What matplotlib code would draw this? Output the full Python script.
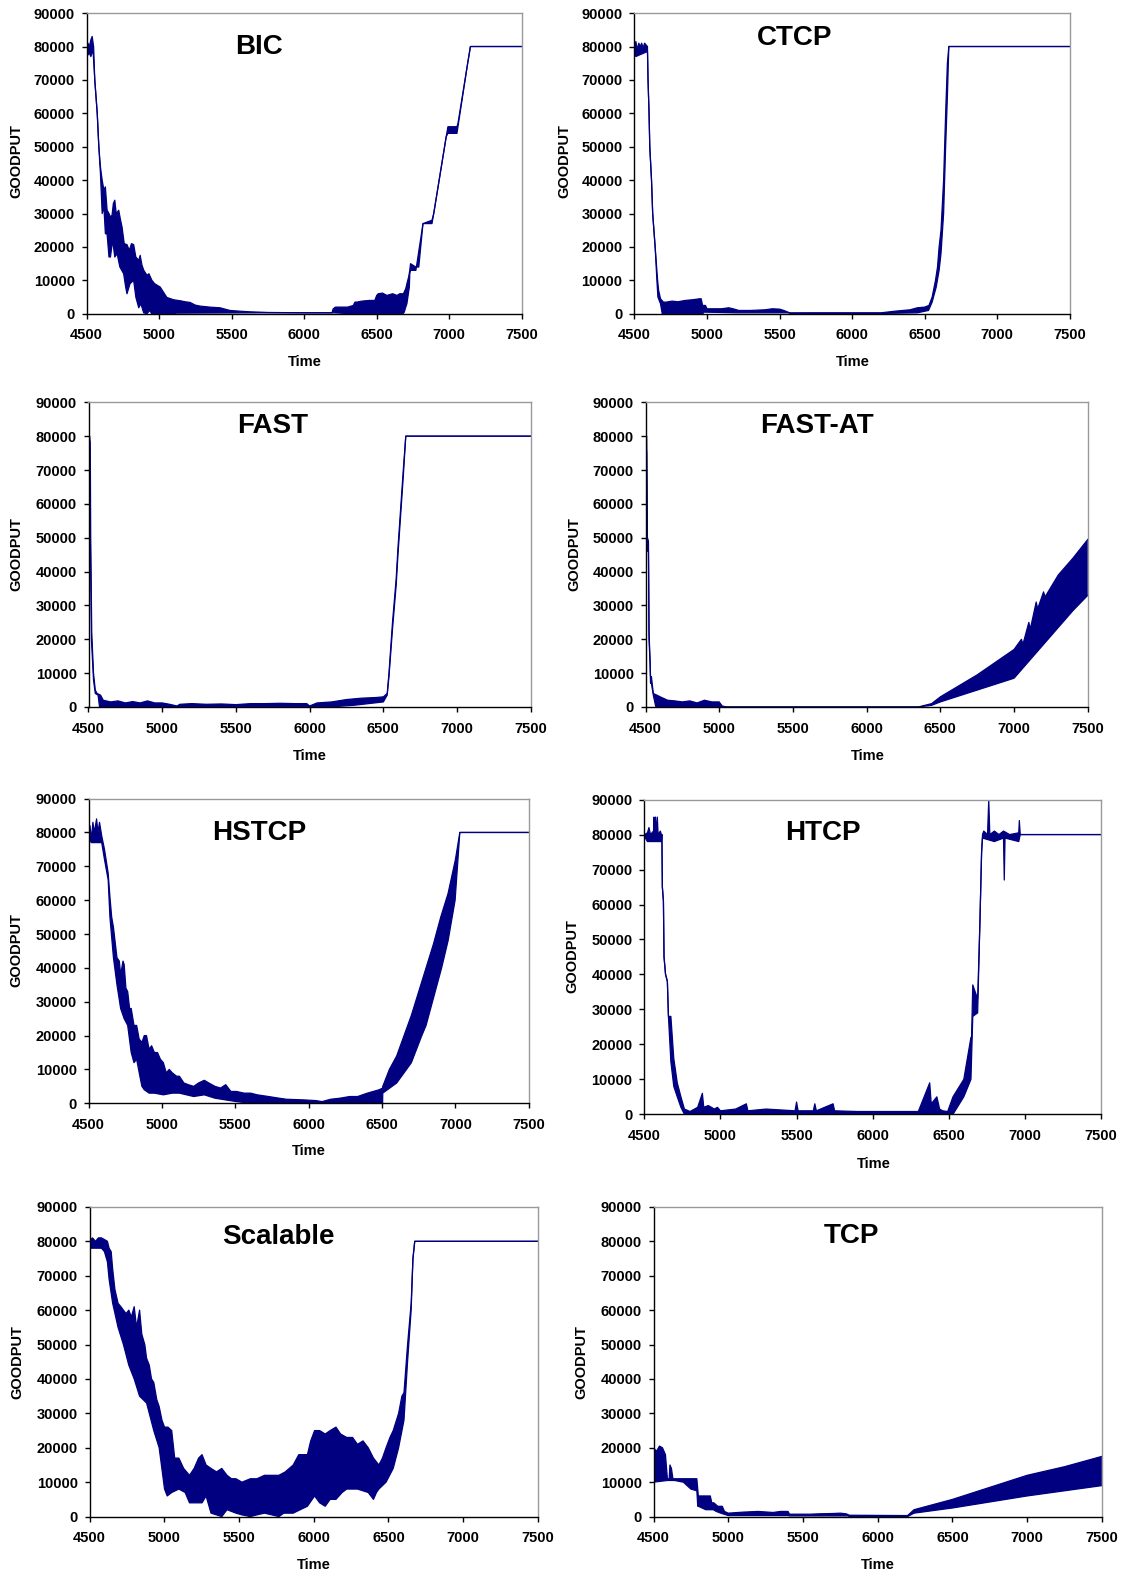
import matplotlib
matplotlib.use("Agg")
import matplotlib.pyplot as plt

plt.rcParams['font.family'] = ['Liberation Sans', 'DejaVu Sans']

W, H = 1121, 1577
NAVY = '#000080'

# ---- goodput traces: (time, goodput) points on the upper and lower edge of each trace ----
bic_top = [(4500, 81000), (4510, 81000), (4520, 80000), (4530, 82000), (4539, 83000),
           (4549, 80000), (4557, 70000), (4574, 60000), (4585, 50000), (4596, 44000),
           (4608, 40000), (4620, 37000), (4630, 38000), (4642, 31000), (4655, 30000),
           (4665, 29000), (4676, 29500), (4685, 33000), (4695, 34000), (4705, 30000),
           (4722, 31000), (4735, 28000), (4745, 26000), (4760, 21000), (4779, 20700),
           (4795, 19000), (4810, 21000), (4825, 20700), (4840, 17000), (4860, 16000),
           (4870, 17500), (4882, 14600), (4895, 13000), (4917, 11500), (4930, 12000),
           (4951, 10000), (4970, 9000), (5008, 8000), (5030, 6500), (5054, 4900),
           (5080, 4500), (5100, 4200), (5146, 3900), (5180, 3600), (5214, 3400),
           (5250, 2600), (5283, 2300), (5350, 2000), (5420, 1800), (5489, 1000),
           (5550, 800), (5626, 600), (5749, 400), (6000, 300), (6192, 300), (6200, 1500),
           (6216, 2000), (6300, 2000), (6339, 2500), (6350, 3500), (6364, 3500),
           (6400, 3800), (6450, 4000), (6487, 4000), (6500, 5500), (6511, 6000),
           (6540, 6200), (6570, 5500), (6610, 6000), (6640, 5500), (6659, 6000),
           (6684, 6000), (6700, 7500), (6708, 9000), (6720, 11000), (6728, 13000),
           (6733, 15000), (6770, 14000), (6790, 14000), (6819, 27000), (6881, 28000),
           (6893, 30000), (6979, 53000), (6991, 56000), (7053, 56000), (7060, 57000),
           (7127, 75000), (7146, 80000), (7500, 80000)]
bic_bot = [(4500, 77000), (4520, 78000), (4530, 77000), (4545, 79000), (4557, 70000),
           (4574, 60000), (4585, 50000), (4596, 42000), (4608, 30000), (4620, 32000),
           (4630, 24000), (4642, 23800), (4655, 17000), (4665, 17000), (4680, 22000),
           (4695, 17000), (4711, 18000), (4730, 14000), (4756, 12000), (4770, 8000),
           (4779, 6000), (4800, 9000), (4825, 10000), (4840, 5000), (4860, 1800),
           (4875, 3000), (4894, 300), (4917, 0), (4935, 1000), (4950, 0), (5100, 0),
           (5120, 200), (5700, 300), (6200, 300), (6339, 0), (6680, 0), (6690, 500),
           (6700, 2000), (6708, 3000), (6725, 8000), (6728, 12000), (6733, 13000),
           (6770, 13000), (6819, 27000), (6881, 27000), (6893, 30000), (6979, 53000),
           (6991, 54000), (7053, 54000), (7127, 75000), (7146, 80000), (7500, 80000)]

ctcp_top = [(4500, 80000), (4510, 81500), (4520, 79000), (4530, 81000), (4540, 80000),
            (4550, 81000), (4560, 79500), (4570, 81000), (4590, 80000), (4594, 70000),
            (4601, 60000), (4606, 50000), (4618, 40000), (4626, 30000), (4643, 20000),
            (4660, 10000), (4667, 7000), (4680, 4500), (4700, 3500), (4720, 3500),
            (4760, 3800), (4800, 3600), (4850, 4000), (4900, 4200), (4950, 4500),
            (4960, 4500), (4970, 2500), (4990, 2500), (5000, 1500), (5050, 1500),
            (5100, 1500), (5150, 1800), (5180, 1500), (5220, 1000), (5300, 1000),
            (5400, 1200), (5450, 1500), (5500, 1400), (5530, 1000), (5570, 300),
            (5700, 300), (6200, 300), (6300, 800), (6400, 1200), (6450, 1800),
            (6500, 2000), (6530, 2500), (6552, 5000), (6575, 10000), (6589, 14000),
            (6600, 20000), (6613, 25000), (6631, 40000), (6645, 60000), (6657, 75000),
            (6667, 80000), (7500, 80000)]
ctcp_bot = [(4500, 78000), (4510, 77000), (4590, 78500), (4594, 70000), (4601, 60000),
            (4606, 50000), (4618, 40000), (4626, 30000), (4643, 20000), (4655, 10000),
            (4662, 5000), (4680, 3000), (4692, 0), (4970, 0), (4980, 500), (5200, 300),
            (5560, 300), (5580, 0), (5700, 100), (6200, 100), (6450, 300), (6527, 1000),
            (6552, 3500), (6580, 8000), (6600, 13000), (6613, 18000), (6631, 30000),
            (6645, 50000), (6657, 65000), (6667, 80000), (7500, 80000)]

fast_top = [(4500, 80000), (4508, 80000), (4512, 78000), (4515, 50000), (4522, 22000),
            (4534, 10000), (4546, 5000), (4558, 4000), (4582, 3500), (4600, 2000),
            (4650, 1500), (4700, 1800), (4750, 1200), (4800, 1600), (4850, 1200),
            (4900, 1800), (4950, 1200), (5000, 1200), (5050, 800), (5100, 300),
            (5120, 800), (5200, 1000), (5300, 800), (5400, 900), (5500, 700),
            (5600, 1000), (5700, 1000), (5800, 1100), (5900, 1000), (5980, 1000),
            (6000, 300), (6050, 1200), (6150, 1500), (6250, 2200), (6350, 2600),
            (6450, 2800), (6500, 3000), (6526, 4000), (6538, 10000), (6562, 25000),
            (6587, 38000), (6599, 47000), (6635, 70000), (6652, 80000), (7500, 80000)]
fast_bot = [(4500, 80000), (4503, 45000), (4510, 45000), (4513, 48000), (4520, 20000),
            (4534, 8000), (4546, 4000), (4565, 3500), (4575, 0), (5100, 0), (5120, 200),
            (5980, 200), (6000, 0), (6200, 200), (6300, 500), (6400, 1000), (6500, 1500),
            (6526, 3500), (6538, 9000), (6562, 23000), (6587, 36000), (6599, 45000),
            (6635, 68000), (6652, 80000), (7500, 80000)]

fastat_top = [(4500, 80000), (4508, 80000), (4513, 50000), (4520, 49000), (4524, 22000),
              (4531, 14000), (4534, 9000), (4540, 9000), (4553, 4000), (4577, 3500),
              (4600, 3000), (4650, 2000), (4700, 1800), (4750, 1500), (4800, 1800),
              (4850, 1200), (4900, 2000), (4950, 1500), (5000, 1500), (5020, 300),
              (5050, 0), (6350, 0), (6441, 1000), (6500, 3000), (6750, 9500),
              (7000, 17000), (7050, 20000), (7060, 18500), (7100, 25000), (7110, 23000),
              (7150, 31000), (7160, 29000), (7200, 34000), (7210, 32500), (7300, 39000),
              (7400, 44000), (7500, 49500)]
fastat_bot = [(4500, 80000), (4508, 75000), (4513, 46000), (4520, 46000), (4524, 20000),
              (4531, 13000), (4534, 7000), (4540, 7000), (4553, 3500), (4570, 0),
              (6350, 0), (6441, 500), (6500, 1500), (6750, 5000), (7000, 8500),
              (7100, 13500), (7200, 18500), (7300, 23500), (7400, 28500), (7500, 33000)]

hstcp_top = [(4500, 80000), (4510, 82000), (4520, 78000), (4530, 83000), (4540, 80000),
             (4555, 84000), (4565, 80000), (4575, 83000), (4590, 79000), (4609, 75000),
             (4634, 68000), (4646, 61000), (4658, 55000), (4670, 52000), (4694, 43000),
             (4710, 42000), (4719, 38000), (4735, 42000), (4743, 41000), (4755, 34000),
             (4767, 33000), (4780, 28000), (4791, 28000), (4810, 23000), (4828, 23000),
             (4845, 19000), (4864, 18000), (4880, 20000), (4895, 20000), (4913, 16000),
             (4930, 17000), (4949, 15000), (4970, 15000), (4990, 13000), (5010, 12000),
             (5030, 9000), (5050, 10000), (5071, 9000), (5100, 8000), (5119, 8000),
             (5150, 6000), (5180, 5500), (5217, 5000), (5250, 6000), (5289, 6800),
             (5320, 6000), (5362, 5000), (5400, 4500), (5435, 5500), (5470, 3500),
             (5508, 3500), (5560, 3000), (5605, 3000), (5650, 2500), (5727, 2000),
             (5800, 1500), (5848, 1200), (5969, 1000), (6050, 800), (6091, 500),
             (6150, 1200), (6212, 1500), (6280, 2000), (6334, 2000), (6400, 3000),
             (6480, 4000), (6504, 4500), (6505, 5000), (6550, 10000), (6600, 14000),
             (6650, 20000), (6700, 26000), (6750, 33000), (6800, 40000), (6850, 47000),
             (6900, 55000), (6950, 62000), (7000, 72000), (7030, 80000), (7500, 80000)]
hstcp_bot = [(4500, 78000), (4520, 77000), (4560, 77000), (4590, 77000), (4609, 72000),
             (4634, 66000), (4646, 55000), (4670, 43000), (4694, 35000), (4719, 28000),
             (4743, 25000), (4767, 23000), (4791, 15000), (4810, 12000), (4828, 13000),
             (4850, 8000), (4864, 5000), (4880, 4000), (4913, 3000), (4949, 3000),
             (5010, 2500), (5071, 3000), (5119, 3000), (5217, 2000), (5289, 2500),
             (5362, 1500), (5435, 1000), (5508, 500), (5605, 0), (6504, 0), (6505, 3000),
             (6600, 6000), (6700, 12000), (6771, 20000), (6800, 23000), (6906, 40000),
             (6950, 48000), (6998, 60000), (7030, 80000), (7500, 80000)]

htcp_top = [(4500, 80000), (4520, 80500), (4530, 82000), (4540, 80000), (4560, 81000),
            (4563, 85000), (4567, 80000), (4573, 85000), (4578, 80000), (4585, 85000),
            (4590, 80000), (4605, 81000), (4611, 80000), (4615, 80000), (4618, 65000),
            (4625, 61000), (4629, 45000), (4639, 40000), (4651, 38000), (4658, 28000),
            (4674, 28000), (4693, 16000), (4716, 9000), (4740, 5000), (4763, 1500),
            (4800, 800), (4850, 2000), (4881, 6000), (4890, 2000), (4920, 2500),
            (4960, 1500), (4980, 2000), (5000, 1000), (5100, 1500), (5170, 3000),
            (5180, 1000), (5300, 1500), (5490, 1000), (5500, 3500), (5510, 1000),
            (5610, 1000), (5620, 3000), (5630, 1000), (5740, 3000), (5750, 1000),
            (5900, 800), (6100, 800), (6300, 800), (6375, 9000), (6385, 3000),
            (6422, 5000), (6440, 1500), (6460, 1000), (6493, 800), (6528, 5000),
            (6599, 10000), (6646, 22000), (6650, 22000), (6658, 37000), (6690, 33000),
            (6705, 55000), (6716, 75000), (6722, 80000), (6730, 81000), (6755, 80000),
            (6763, 90000), (6770, 80000), (6800, 81000), (6830, 80000), (6860, 81000),
            (6900, 80000), (6960, 80500), (6964, 84000), (6970, 80000), (7500, 80000)]
htcp_bot = [(4500, 79500), (4520, 78000), (4540, 78000), (4560, 78000), (4590, 78000),
            (4611, 78000), (4615, 80000), (4618, 65000), (4625, 61000), (4629, 45000),
            (4639, 40000), (4651, 38000), (4658, 28000), (4674, 15000), (4693, 8000),
            (4716, 5000), (4740, 2000), (4763, 0), (6528, 0), (6599, 5000),
            (6646, 10000), (6658, 28000), (6690, 29000), (6705, 55000), (6716, 75000),
            (6722, 79000), (6800, 78000), (6860, 79000), (6865, 67000), (6870, 79000),
            (6960, 78000), (6970, 80000), (7500, 80000)]

scal_top = [(4500, 80000), (4520, 81000), (4540, 80000), (4560, 81000), (4580, 81000),
            (4600, 80500), (4620, 80000), (4631, 78000), (4645, 77000), (4655, 72000),
            (4670, 66000), (4691, 62000), (4710, 61000), (4727, 60000), (4745, 59000),
            (4763, 60000), (4780, 58000), (4799, 61000), (4815, 55000), (4835, 60000),
            (4850, 53000), (4870, 50000), (4882, 46000), (4900, 44000), (4915, 40000),
            (4930, 39000), (4950, 34000), (4966, 32000), (4985, 28000), (5002, 26000),
            (5025, 26000), (5050, 25000), (5070, 17000), (5098, 17000), (5130, 14000),
            (5169, 12000), (5200, 14000), (5230, 17000), (5253, 18000), (5280, 15000),
            (5313, 14000), (5350, 13000), (5385, 14000), (5420, 12000), (5450, 11000),
            (5480, 11000), (5520, 10000), (5576, 11000), (5620, 11000), (5671, 12000),
            (5720, 12000), (5767, 12000), (5810, 13000), (5863, 15000), (5900, 18000),
            (5958, 18000), (5980, 22000), (6006, 25000), (6040, 25000), (6077, 24000),
            (6110, 25000), (6149, 26000), (6180, 24000), (6221, 23000), (6260, 23000),
            (6293, 21000), (6330, 22000), (6365, 20000), (6400, 17000), (6436, 15000),
            (6460, 17000), (6484, 20000), (6510, 23000), (6532, 25000), (6568, 30000),
            (6590, 35000), (6604, 36000), (6628, 50000), (6652, 62000), (6664, 75000),
            (6676, 80000), (7500, 80000)]
scal_bot = [(4500, 78000), (4540, 78000), (4580, 78000), (4600, 77000), (4620, 74000),
            (4631, 69000), (4655, 62000), (4691, 55000), (4727, 50000), (4763, 44000),
            (4799, 40000), (4835, 35000), (4882, 33000), (4930, 25000), (4966, 20000),
            (5002, 8000), (5020, 6000), (5050, 7000), (5098, 8000), (5140, 7000),
            (5169, 4000), (5210, 4000), (5253, 4000), (5280, 6000), (5313, 1000),
            (5350, 500), (5385, 0), (5420, 2000), (5480, 1000), (5520, 500), (5576, 0),
            (5620, 500), (5671, 1000), (5720, 500), (5767, 0), (5800, 1000), (5863, 1000),
            (5910, 2000), (5958, 3000), (6006, 6000), (6040, 4000), (6077, 3000),
            (6110, 5000), (6149, 5000), (6190, 7000), (6221, 8000), (6293, 8000),
            (6365, 7000), (6400, 5000), (6420, 7000), (6436, 8000), (6484, 10000),
            (6532, 14000), (6568, 20000), (6604, 28000), (6628, 45000), (6652, 60000),
            (6664, 75000), (6676, 80000), (7500, 80000)]

tcp_top = [(4500, 20000), (4520, 19000), (4540, 20500), (4560, 20000), (4580, 18000),
           (4593, 11000), (4605, 11000), (4610, 15000), (4620, 14000), (4630, 11000),
           (4700, 11000), (4760, 11000), (4790, 11000), (4800, 6000), (4880, 6000),
           (4890, 4000), (4904, 4000), (4930, 3000), (4960, 3000), (4975, 1500),
           (5000, 1000), (5100, 1300), (5200, 1500), (5300, 1200), (5350, 1500),
           (5400, 1500), (5410, 700), (5550, 700), (5600, 800), (5700, 900),
           (5750, 1000), (5790, 800), (5810, 400), (6200, 300), (6243, 2000),
           (6500, 5000), (6750, 8500), (7000, 12000), (7250, 14500), (7500, 17500)]
tcp_bot = [(4500, 10000), (4593, 10500), (4605, 10500), (4641, 10500), (4700, 10000),
           (4750, 8000), (4790, 7500), (4796, 3000), (4800, 3000), (4850, 2000),
           (4900, 2000), (4920, 1500), (4950, 1000), (5000, 300), (5400, 300),
           (5410, 200), (5800, 200), (5810, 0), (6200, 0), (6243, 1000), (6500, 2500),
           (7000, 6000), (7500, 9000)]

names = ["BIC", "CTCP", "FAST", "FAST-AT", "HSTCP", "HTCP", "Scalable", "TCP"]
tops = [bic_top, ctcp_top, fast_top, fastat_top, hstcp_top, htcp_top, scal_top, tcp_top]
bots = [bic_bot, ctcp_bot, fast_bot, fastat_bot, hstcp_bot, htcp_bot, scal_bot, tcp_bot]

x_ticks = [4500, 5000, 5500, 6000, 6500, 7000, 7500]
y_ticks = [0, 10000, 20000, 30000, 40000, 50000, 60000, 70000, 80000, 90000]

# plot-area boxes in pixels: left, right, top, bottom
boxes = [
    (86.5, 521.8, 13.1, 313.8),
    (634.4, 1069.7, 13.1, 313.8),
    (88.5, 530.8, 402.3, 707.0),
    (645.5, 1087.8, 402.3, 707.0),
    (88.5, 528.8, 798.6, 1103.3),
    (644.4, 1100.9, 799.6, 1114.3),
    (89.5, 537.9, 1206.9, 1516.6),
    (653.5, 1101.9, 1206.9, 1516.6),
]
# centres of the protocol name, the y label and the x label, in pixels
name_pos = [(259, 47), (795, 38), (273, 426), (817, 426),
            (259, 833), (823, 833), (278, 1237), (851, 1236)]
ylab_pos = [(16, 161), (564, 161), (16, 554), (574, 554),
            (16, 950), (572, 956), (17, 1362), (581, 1362)]
xlab_pos = [(305, 362), (853, 362), (310, 756), (868, 756),
            (309, 1151), (874, 1164), (314, 1565), (878, 1565)]

fig = plt.figure(figsize=(W / 100, H / 100), dpi=100)

for name, top, bot, (l, r, tp, b), npos, ypos, xpos in zip(names, tops, bots, boxes,
                                                            name_pos, ylab_pos, xlab_pos):
    ax = fig.add_axes([l / W, 1 - b / H, (r - l) / W, (b - tp) / H])
    top_t = [p[0] for p in top]
    top_v = [p[1] for p in top]
    bot_t = [p[0] for p in bot]
    bot_v = [p[1] for p in bot]
    # the band between the two edges, closed as one polygon
    ax.fill(top_t + bot_t[::-1], top_v + bot_v[::-1], color=NAVY, lw=0)
    ax.plot(top_t, top_v, color=NAVY, lw=0.9)
    ax.plot(bot_t, bot_v, color=NAVY, lw=0.9)
    ax.set_xlim(4500, 7500)
    ax.set_ylim(0, 90000)
    ax.set_xticks(x_ticks)
    ax.set_yticks(y_ticks)
    ax.set_xticklabels([str(v) for v in x_ticks], fontsize=10.5, fontweight='bold')
    ax.set_yticklabels([str(v) for v in y_ticks], fontsize=10.5, fontweight='bold')
    ax.tick_params(direction='out', length=3.5, width=1, color='black')
    ax.tick_params(axis='x', pad=7.0)
    ax.tick_params(axis='y', pad=5.0)
    for s in ('left', 'bottom'):
        ax.spines[s].set_color('black')
        ax.spines[s].set_linewidth(1.0)
    for s in ('top', 'right'):
        ax.spines[s].set_color('#999999')
        ax.spines[s].set_linewidth(1.0)

    fig.text(npos[0] / W, 1 - npos[1] / H, name, fontsize=20, fontweight='bold',
             ha='center', va='center')
    fig.text(ypos[0] / W, 1 - ypos[1] / H, "GOODPUT", fontsize=10.5, fontweight='bold',
             rotation=90, ha='center', va='center')
    fig.text(xpos[0] / W, 1 - xpos[1] / H, "Time", fontsize=10.5, fontweight='bold',
             ha='center', va='center')

fig.savefig("out.png", dpi=100, facecolor='white')
